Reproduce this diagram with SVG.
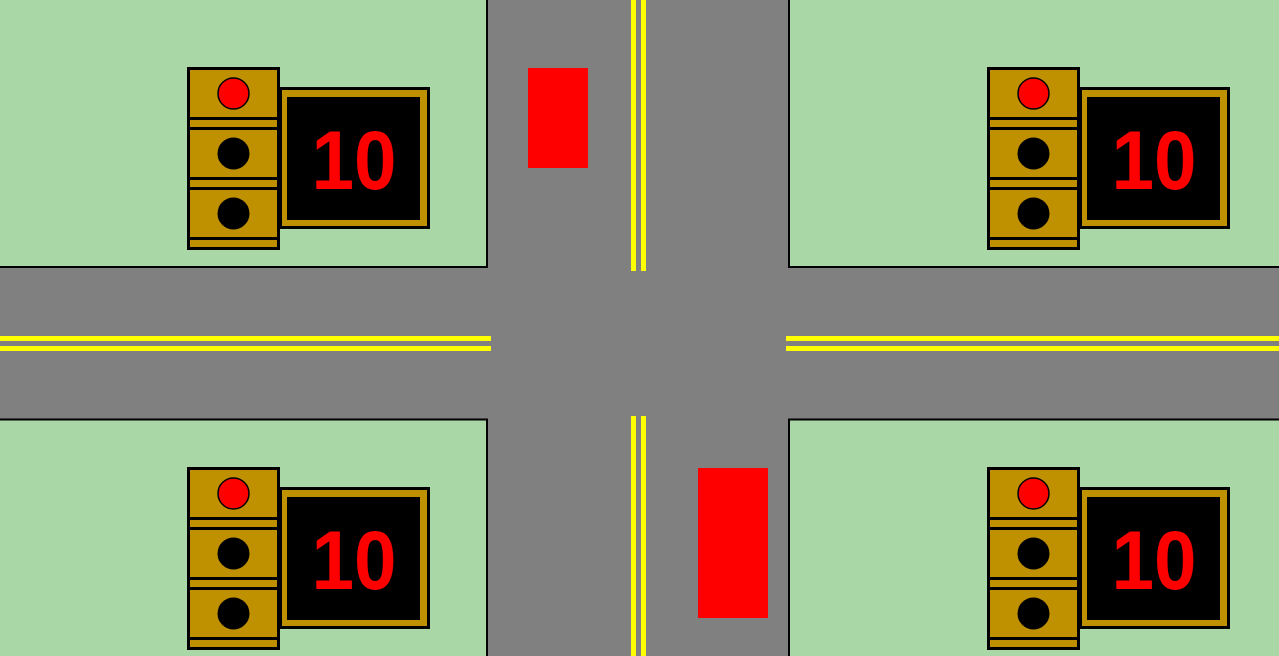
<svg xmlns="http://www.w3.org/2000/svg" width="1279" height="656" viewBox="0 0 1279 656">
<style>
.grass{fill:#A9D7A6;stroke:#000;stroke-width:2}
.yl{fill:#FFFF00}
.car{fill:#FF0000}
.box{fill:#BF9000;stroke:#000;stroke-width:3}
.lamp{fill:#000}
.red{fill:#FF0000;stroke:#000;stroke-width:1.5}
.num{font-family:"Liberation Sans",Arial,sans-serif;font-weight:bold;font-size:84px;fill:#FF0000;text-anchor:middle}
</style>
<defs>
<g id="sig">
<rect class="box" x="188.5" y="68.5" width="90" height="180"/>
<rect class="box" x="188.5" y="68.5" width="90" height="50"/>
<rect class="box" x="188.5" y="128.5" width="90" height="50"/>
<rect class="box" x="188.5" y="188.5" width="90" height="50"/>
<circle class="red" cx="233.5" cy="93.5" r="15.5"/>
<circle class="lamp" cx="233.5" cy="153.5" r="16"/>
<circle class="lamp" cx="233.5" cy="213.5" r="16"/>
<rect class="box" x="280.5" y="88.5" width="148" height="139"/>
<rect fill="#000" x="287" y="97" width="133" height="123"/>
<text class="num" x="354" y="189" textLength="85" lengthAdjust="spacingAndGlyphs">10</text>
</g>
</defs>
<rect x="0" y="0" width="1279" height="656" fill="#808080"/>
<g id="grass">
<rect class="grass" x="-2" y="-2" width="489" height="269"/>
<rect class="grass" x="789" y="-2" width="492" height="269"/>
<rect class="grass" x="-2" y="419.5" width="489" height="240"/>
<rect class="grass" x="789" y="419.5" width="492" height="240"/>
</g>
<g id="markings">
<rect class="yl" x="0" y="336" width="491" height="5"/>
<rect class="yl" x="0" y="346" width="491" height="5"/>
<rect class="yl" x="786" y="336" width="493" height="5"/>
<rect class="yl" x="786" y="346" width="493" height="5"/>
<rect class="yl" x="631" y="0" width="5" height="271"/>
<rect class="yl" x="641" y="0" width="5" height="271"/>
<rect class="yl" x="631" y="416" width="5" height="240"/>
<rect class="yl" x="641" y="416" width="5" height="240"/>
</g>
<g id="car-north"><rect class="car" x="528" y="68" width="60" height="100"/></g>
<g id="car-south"><rect class="car" x="698" y="468" width="70" height="150"/></g>
<g id="signal-nw"><use href="#sig"/></g>
<g id="signal-ne"><use href="#sig" transform="translate(800,0)"/></g>
<g id="signal-sw"><use href="#sig" transform="translate(0,400)"/></g>
<g id="signal-se"><use href="#sig" transform="translate(800,400)"/></g>
<g id="connectors"/>
</svg>
